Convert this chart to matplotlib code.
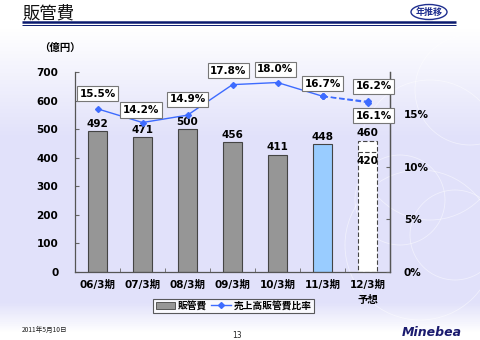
import numpy as np
import matplotlib
matplotlib.use("Agg")
import matplotlib.pyplot as plt
from matplotlib.patches import Rectangle, Circle, Ellipse
from matplotlib.lines import Line2D

# ---- data ----
categories = ["06/3期", "07/3期", "08/3期", "09/3期", "10/3期", "11/3期", "12/3期\n予想"]
sga = [492, 471, 500, 456, 411, 448]          # 販管費 (億円), actual
sga_forecast_high = 460                        # 12/3期 予想
sga_forecast_low = 420
ratio = [15.5, 14.2, 14.9, 17.8, 18.0, 16.7]   # 売上高販管費比率 (%)
ratio_forecast = [16.2, 16.1]
left_ticks = [0, 100, 200, 300, 400, 500, 600, 700]
right_ticks = [0, 5, 10, 15]

FONT = ["DejaVu Sans", "Noto Sans CJK JP"]
CJK = ["Noto Sans CJK JP", "DejaVu Sans"]
plt.rcParams["font.family"] = FONT

W, H = 480, 340
fig = plt.figure(figsize=(W / 100, H / 100), dpi=100)

# ---- background gradient ----
bg = fig.add_axes([0, 0, 1, 1], zorder=-10)
bg.set_xlim(0, W)
bg.set_ylim(H, 0)
bg.axis("off")
yy = np.arange(H)
lav = np.array([225, 225, 250]) / 255.0
white = np.ones(3)
t = np.clip((yy - 28) / 110.0, 0, 1)
t = np.minimum(t, np.clip((332 - yy) / 30.0, 0, 1))
col = white[None, :] * (1 - t[:, None]) + lav[None, :] * t[:, None]
img = np.repeat(col[:, None, :], W, axis=1)
bg.imshow(img, extent=(0, W, H, 0), aspect="auto", interpolation="bilinear")
for (cx, cy, r) in [(430, 150, 70), (455, 235, 45), (420, 245, 75), (470, 90, 55), (400, 200, 45)]:
    bg.add_patch(Circle((cx, cy), r, fill=False, ec="white", lw=0.6, alpha=0.5))

# ---- header ----
bg.text(22, 14, "販管費", fontsize=12.5, family=CJK, va="center", ha="left", color="#111111")
bg.plot([22, 456], [22, 22], color="#0A1A6E", lw=1.8, solid_capstyle="butt")
bg.plot([22, 456], [24.6, 24.6], color="#0A1A6E", lw=0.7, solid_capstyle="butt")
bg.add_patch(Ellipse((429, 12), 36, 15, fill=False, ec="#1F2F8F", lw=1.0))
bg.text(429, 12.5, "年推移", fontsize=6.5, family=CJK, weight="bold", color="#1F2F8F",
        ha="center", va="center")
bg.text(60, 48, "（億円）", fontsize=7.5, family=CJK, weight="bold", ha="center", va="center")

# ---- footer ----
bg.text(22, 330, "2011年5月10日", fontsize=4.8, family=CJK, style="italic", ha="left", va="center",
        color="#222222")
bg.text(237, 335, "13", fontsize=5.5, ha="center", va="center", color="#222222")
bg.text(432, 333, "Minebea", fontsize=9, weight="bold", style="italic", ha="center", va="center",
        color="#1A1A6E")

# ---- main axes ----
ax = fig.add_axes([75 / W, 1 - 272 / H, 315 / W, 200 / H])
ax.set_facecolor("none")
x = np.arange(len(categories))
ax.set_xlim(-0.5, len(categories) - 0.5)
ax.set_ylim(0, 700)

bar_w = 0.44
colors = ["#969696"] * 5 + ["#99CCFF"]
ax.bar(x[:len(sga)], sga, width=bar_w, color=colors, edgecolor="#444444", lw=0.8, zorder=2)
fx = x[-1]
ax.bar([fx], [sga_forecast_high], width=bar_w, color="white", edgecolor="#444444", lw=0.8,
       linestyle=(0, (4, 2)), zorder=2)
ax.plot([fx - bar_w / 2, fx + bar_w / 2], [sga_forecast_low, sga_forecast_low], color="#444444",
        lw=0.8, ls=(0, (4, 2)), zorder=3)

lab_kw = dict(fontsize=7.5, weight="bold", ha="center", textcoords="offset points")
for xi, v in zip(x, sga):
    ax.annotate(f"{v}", (xi, v), xytext=(0, 1.5), va="bottom", **lab_kw)
ax.annotate(f"{sga_forecast_high}", (fx, sga_forecast_high), xytext=(0, 1.5), va="bottom", **lab_kw)
ax.annotate(f"{sga_forecast_low}", (fx, sga_forecast_low), xytext=(0, -3), va="top", **lab_kw)

ax.set_yticks(left_ticks)
ax.set_xticks(x)
ax.set_xticklabels(categories, fontsize=7.5, weight="bold", linespacing=1.6)
ax.set_xticks(np.arange(len(categories) + 1) - 0.5, minor=True)
ax.tick_params(axis="x", which="major", length=0, pad=6)
ax.tick_params(axis="x", which="minor", direction="in", length=3, color="#666666")
ax.tick_params(axis="y", direction="in", length=3, color="#666666", labelsize=7.5, pad=12)
for lab in ax.get_yticklabels():
    lab.set_fontweight("bold")
for s in ["left", "bottom", "right"]:
    ax.spines[s].set_color("#555555")
    ax.spines[s].set_linewidth(0.9)
ax.spines["top"].set_visible(False)

# ---- ratio axis ----
ax2 = ax.twinx()
ax2.set_ylim(0, 19)
ax2.set_yticks(right_ticks)
ax2.set_yticklabels([f"{v}%" for v in right_ticks])
ax2.tick_params(axis="y", direction="in", length=3, color="#666666", labelsize=7.5, pad=10)
for lab in ax2.get_yticklabels():
    lab.set_fontweight("bold")
for s in ["left", "top", "bottom"]:
    ax2.spines[s].set_visible(False)
ax2.spines["right"].set_color("#555555")
ax2.spines["right"].set_linewidth(0.9)

blue = "#3D6BFF"
ax2.plot(x[:len(ratio)], ratio, color=blue, lw=1.0, marker="D", ms=3, zorder=5)
for rv in ratio_forecast:
    ax2.plot([x[len(ratio) - 1], fx], [ratio[-1], rv], color=blue, lw=1.0, ls=(0, (4, 2)),
             marker="D", ms=3, zorder=5)

box = dict(boxstyle="square,pad=0.25", fc="white", ec="#777777", lw=0.8)
# label offsets (points) from each point
offsets = [(0, 11), (-1, 9), (0, 11.5), (-3, 10), (-1.5, 9.5), (0, 9)]
for xi, v, off in zip(x, ratio, offsets):
    ax2.annotate(f"{v:.1f}%", (xi, v), xytext=off, textcoords="offset points", ha="center",
                 va="center", fontsize=7.5, weight="bold", bbox=box, zorder=6)
for v, off in zip(ratio_forecast, [(4.5, 11), (4.5, -9.5)]):
    ax2.annotate(f"{v:.1f}%", (fx, v), xytext=off, textcoords="offset points", ha="center",
                 va="center", fontsize=7.5, weight="bold", bbox=box, zorder=6)

# ---- legend ----
handles = [Rectangle((0, 0), 1, 1, fc="#969696", ec="#444444", lw=0.6),
           Line2D([], [], color=blue, lw=1.0, marker="D", ms=3)]
leg = fig.legend(handles, ["販管費", "売上高販管費比率"], loc="center",
                 bbox_to_anchor=(233.5 / W, 1 - 306 / H), ncol=2, frameon=True, fancybox=False,
                 prop={"family": CJK, "weight": "bold", "size": 7}, handlelength=2.0,
                 handleheight=0.8, handletextpad=0.3, columnspacing=0.4, borderpad=0.25,
                 borderaxespad=0)
leg.get_frame().set_edgecolor("#333333")
leg.get_frame().set_linewidth(0.8)
leg.get_frame().set_facecolor("white")

fig.savefig("out.png", dpi=100)
